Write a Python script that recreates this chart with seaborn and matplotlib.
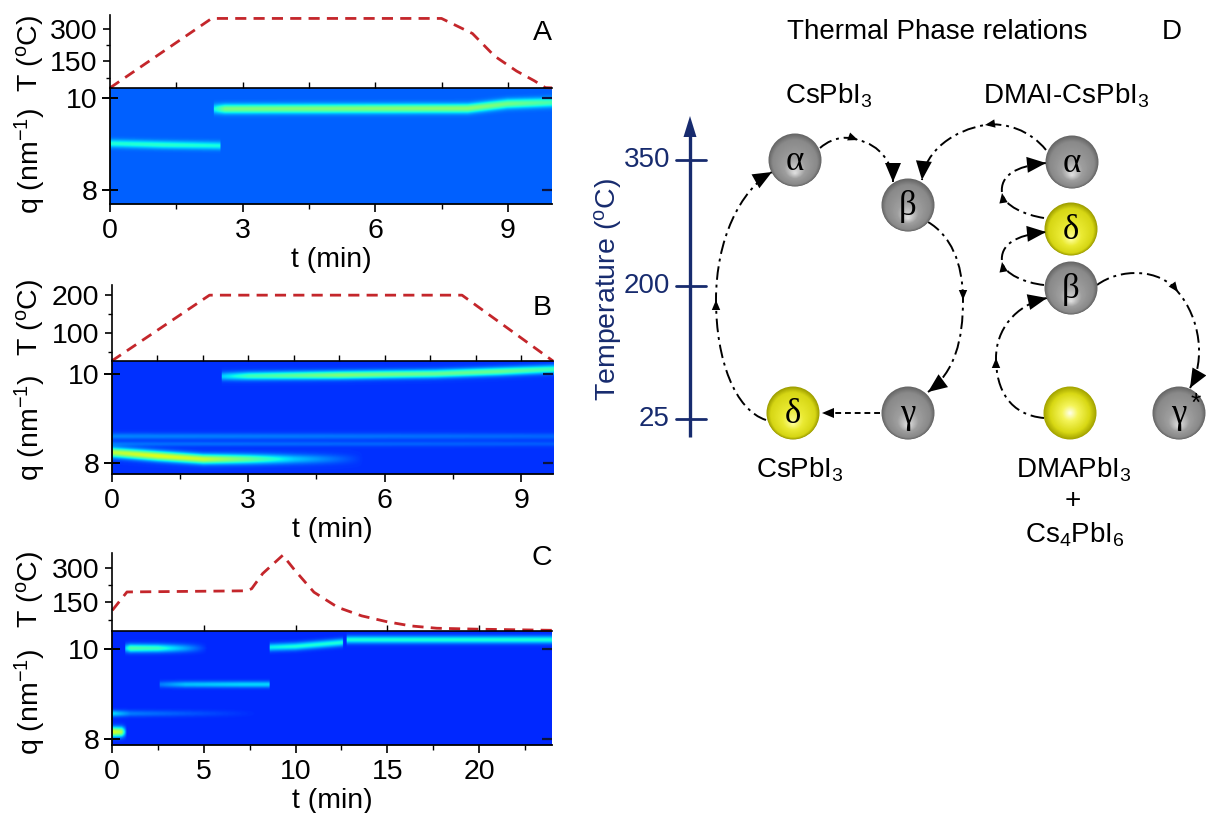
import numpy as np
import matplotlib
matplotlib.use('Agg')
import matplotlib.pyplot as plt
import seaborn as sns
from matplotlib.patches import Circle, Polygon, PathPatch
from matplotlib.path import Path
from matplotlib.ticker import NullLocator

# temperature programmes (t in min, T in degC)
a_time = [0, 2.3, 7.5, 8.2, 8.7, 9.2, 9.6, 9.85, 10]
a_temp = [27, 350, 350, 280, 175, 105, 60, 28, 27]
b_time = [0, 2.15, 7.7, 9.7]
b_temp = [25, 200, 200, 25]
c_time = [0, 0.8, 7.3, 7.6, 8.2, 9.3, 9.95, 11.0, 12.3, 13.6, 15.0, 16.3, 17.7, 19.9, 24]
c_temp = [115, 195, 200, 209, 275, 355, 290, 194, 128, 91, 65, 47, 37, 33, 28]

# diffraction streaks of the q(t) maps: time points, q centre, intensity above background, width
a_streak_t = [[0, 1.2, 2.5], [2.35, 2.6, 8.1, 9.0, 10]]
a_streak_q = [[8.99, 8.96, 8.94], [9.74, 9.74, 9.75, 9.85, 9.88]]
a_streak_i = [[0.17, 0.18, 0.16], [0.15, 0.28, 0.30, 0.27, 0.22]]
a_streak_w = [0.06, 0.07]

b_streak_t = [[2.4, 3, 5, 7.1, 8.5, 9.7], [0, 1, 2, 3, 4, 5.5], [0, 9.7], [0, 9.7]]
b_streak_q = [[9.94, 9.95, 9.97, 10.0, 10.05, 10.1], [8.24, 8.16, 8.09, 8.09, 8.09, 8.09],
              [8.6, 8.6], [8.43, 8.43]]
b_streak_i = [[0.15, 0.25, 0.33, 0.30, 0.30, 0.25], [0.40, 0.45, 0.42, 0.30, 0.15, 0.0],
              [0.08, 0.05], [0.06, 0.04]]
b_streak_w = [0.065, 0.075, 0.05, 0.04]

c_streak_t = [[0, 0.5, 0.8], [0, 1, 8], [0.7, 1, 2.5, 4, 5.2], [2.6, 4, 7, 8.6],
              [8.6, 10, 12.6], [12.8, 18, 24]]
c_streak_q = [[8.16, 8.16, 8.16], [8.57, 8.57, 8.57], [10.03, 10.03, 10.03, 10.03, 10.03],
              [9.22, 9.22, 9.22, 9.22], [10.05, 10.07, 10.16], [10.22, 10.22, 10.22]]
c_streak_i = [[0.45, 0.40, 0.0], [0.18, 0.08, 0.0], [0.15, 0.28, 0.25, 0.12, 0.0],
              [0.08, 0.15, 0.17, 0.17], [0.20, 0.22, 0.22], [0.22, 0.22, 0.22]]
c_streak_w = [0.075, 0.05, 0.065, 0.05, 0.06, 0.06]

# panel D
d_temp_ticks = [25, 200, 350]
d_phase_names = ['α', 'β', 'γ', 'δ', 'α', 'δ', 'β', '', 'γ']
d_phase_kinds = ['gray', 'gray', 'gray', 'yellow', 'gray', 'yellow', 'gray', 'bright', 'gray']

W, H = 1206, 813
sns.set_style('ticks')
plt.rcParams['font.family'] = ['Liberation Sans', 'DejaVu Sans']
plt.rcParams['mathtext.default'] = 'regular'
for k in ['axes.edgecolor', 'text.color', 'xtick.color', 'ytick.color', 'axes.labelcolor']:
    plt.rcParams[k] = 'black'

jet = matplotlib.colormaps['jet']
red = '#c4262b'
navy = '#172b6e'
fs = 20.5

fig = plt.figure(figsize=(W / 100, H / 100), dpi=100)


def px_axes(left, top, right, bottom, **kw):
    return fig.add_axes([left / W, 1 - bottom / H, (right - left) / W, (bottom - top) / H], **kw)


def streak_map(t_max, q_lim, bg, ts, qs, amps, widths):
    tt = np.linspace(0, t_max, 600)
    qq = np.linspace(q_lim[0], q_lim[1], 300)
    img = np.full((qq.size, tt.size), bg)
    for t, q, a, w in zip(ts, qs, amps, widths):
        qc = np.interp(tt, t, q)
        amp = np.interp(tt, t, a, left=0, right=0)
        img += amp[None, :] * np.exp(-0.5 * ((qq[:, None] - qc[None, :]) / w) ** 2)
    return img


panels = [
    dict(letter='A', x=(110, 552), y=(15, 88.3, 204.3), tmax=10, Tlim=(25, 366), qlim=(7.68, 10.21),
         bg=0.22, xt=[0, 3, 6, 9], xminor=1.5, top_step=1.5, Tmaj=[150, 300], Tmin=[75, 225],
         T=(a_time, a_temp), S=(a_streak_t, a_streak_q, a_streak_i, a_streak_w),
         Ty=53, qy=161, ly=33),
    dict(letter='B', x=(111.7, 553), y=(285, 361, 474), tmax=9.7, Tlim=(25, 227), qlim=(7.76, 10.28),
         bg=0.175, xt=[0, 3, 6, 9], xminor=1.5, top_step=1.0, Tmaj=[100, 200], Tmin=[50, 150],
         T=(b_time, b_temp), S=(b_streak_t, b_streak_q, b_streak_i, b_streak_w),
         Ty=317, qy=428, ly=308),
    dict(letter='C', x=(112.3, 552.3), y=(552.7, 631, 745), tmax=24, Tlim=(25, 366), qlim=(7.87, 10.41),
         bg=0.165, xt=[0, 5, 10, 15, 20], xminor=2.5, top_step=5, Tmaj=[150, 300], Tmin=[75, 225],
         T=(c_time, c_temp), S=(c_streak_t, c_streak_q, c_streak_i, c_streak_w),
         Ty=589, qy=702, ly=558),
]

for p in panels:
    x0, x1 = p['x']
    y0, y1, y2 = p['y']
    axH = px_axes(x0, y1, x1, y2)
    axT = px_axes(x0, y0, x1, y1, zorder=3)
    axT.patch.set_alpha(0)

    img = streak_map(p['tmax'], p['qlim'], p['bg'], *p['S'])
    axH.imshow(img, extent=[0, p['tmax'], p['qlim'][0], p['qlim'][1]], origin='lower', aspect='auto',
               cmap=jet, vmin=0, vmax=1, interpolation='bilinear')
    axH.set_xlim(0, p['tmax'])
    axH.set_ylim(*p['qlim'])
    axH.set_xticks(p['xt'])
    axH.set_xticks(np.arange(0, p['tmax'] + 1e-6, p['xminor']), minor=True)
    axH.set_yticks([8, 10])
    axH.yaxis.set_minor_locator(NullLocator())
    axH.tick_params(axis='x', which='major', direction='out', length=6, width=1.2, pad=4, labelsize=fs)
    axH.tick_params(axis='x', which='minor', direction='out', length=3.5, width=1.0)
    axH.tick_params(axis='y', which='major', direction='inout', length=12, width=1.4, pad=3,
                    labelsize=fs)
    for s in ['top', 'right']:
        axH.spines[s].set_visible(False)
    for s in ['left', 'bottom']:
        axH.spines[s].set_linewidth(1.3)
    axH.set_xlabel('t (min)', fontsize=fs, labelpad=2)

    # dark inner ticks on the right edge of the map
    axR = axH.twinx()
    axR.set_ylim(*p['qlim'])
    axR.set_yticks([8, 10])
    axR.yaxis.set_minor_locator(NullLocator())
    axR.tick_params(axis='y', direction='in', length=7, width=1.6, color='#0a1440', labelright=False)
    for s in axR.spines.values():
        s.set_visible(False)

    sns.lineplot(x=p['T'][0], y=p['T'][1], ax=axT, color=red, lw=2.0, linestyle=(0, (4, 2.6)),
                 clip_on=False, legend=False)
    axT.set_xlim(0, p['tmax'])
    axT.set_ylim(*p['Tlim'])
    axT.set_yticks(p['Tmaj'])
    axT.set_yticks(p['Tmin'], minor=True)
    axT.set_xticks(np.arange(p['top_step'], p['tmax'] - 1e-6, p['top_step']))
    axT.xaxis.set_minor_locator(NullLocator())
    axT.tick_params(axis='x', which='major', direction='in', length=4, width=1.0, labelbottom=False)
    axT.tick_params(axis='y', which='major', direction='out', length=5, width=1.2, pad=4, labelsize=fs)
    axT.tick_params(axis='y', which='minor', direction='out', length=3, width=1.0)
    for s in ['top', 'right']:
        axT.spines[s].set_visible(False)
    for s in ['left', 'bottom']:
        axT.spines[s].set_linewidth(1.2)
    axT.set_xlabel('')
    axT.set_ylabel('')

    fig.text(30 / W, 1 - p['Ty'] / H, 'T ($^{o}$C)', rotation=90, ha='center', va='center', fontsize=fs)
    fig.text(30 / W, 1 - p['qy'] / H, 'q (nm$^{-1}$)', rotation=90, ha='center', va='center', fontsize=fs)
    fig.text(542 / W, 1 - p['ly'] / H, p['letter'], ha='center', va='center', fontsize=fs)

# ---------------- panel D: schematic phase diagram ----------------
axd = fig.add_axes([0, 0, 1, 1], zorder=5)
axd.set_xlim(0, W)
axd.set_ylim(H, 0)
axd.axis('off')

dfs = 20
axd.text(937, 32, 'Thermal Phase relations', ha='center', va='center', fontsize=dfs)
axd.text(1172, 32, 'D', ha='center', va='center', fontsize=dfs)
axd.text(829, 104, 'CsPbI$_3$', ha='center', va='baseline', fontsize=dfs)
axd.text(1066, 104, 'DMAI-CsPbI$_3$', ha='center', va='baseline', fontsize=dfs)
axd.text(800, 477, 'CsPbI$_3$', ha='center', va='baseline', fontsize=dfs)
axd.text(1074, 477, 'DMAPbI$_3$', ha='center', va='baseline', fontsize=dfs)
axd.text(1073, 501, '+', ha='center', va='center', fontsize=dfs)
axd.text(1075, 542, 'Cs$_4$PbI$_6$', ha='center', va='baseline', fontsize=dfs)

# temperature arrow
axd.plot([690, 690], [437, 132], color=navy, lw=2.4, solid_capstyle='butt')
axd.add_patch(Polygon([[690, 116], [683.5, 137], [696.5, 137]], closed=True, color=navy, lw=0))
tick_y = [419, 286, 160]
for val, yy in zip(d_temp_ticks, tick_y):
    axd.plot([676, 706], [yy, yy], color=navy, lw=2.0)
    axd.text(670, yy, str(val), ha='right', va='center', fontsize=dfs, color=navy)
axd.text(608, 290, 'Temperature ($^{o}$C)', rotation=90, ha='center', va='center',
         fontsize=dfs + 0.5, color=navy)

# spheres
sphere_xy = [(795, 160), (908, 205), (908, 413), (793, 413),
             (1072, 162), (1071, 229), (1071, 288), (1070, 413), (1179, 413)]
R = 26
stops = {
    'gray': ([0, 0.15, 0.6, 1], [(0.40, 0.40, 0.40), (0.54, 0.54, 0.54), (0.62, 0.62, 0.62), (0.88, 0.88, 0.88)], 0.5),
    'yellow': ([0, 0.15, 0.6, 1], [(0.62, 0.62, 0.0), (0.84, 0.84, 0.08), (0.92, 0.92, 0.2), (1.0, 1.0, 0.6)], 0.4),
    'bright': ([0, 0.25, 0.7, 1], [(0.64, 0.64, 0.0), (0.85, 0.85, 0.08), (0.96, 0.96, 0.35), (1.0, 1.0, 0.92)], 0.0),
}
for name, kind, (sx, sy) in zip(d_phase_names, d_phase_kinds, sphere_xy):
    fpos, cols, shift = stops[kind]
    cols = np.array(cols)
    for f in np.linspace(0, 1, 45):
        c = [np.interp(f, fpos, cols[:, i]) for i in range(3)]
        rr = R * (1 - f) + 0.5
        axd.add_patch(Circle((sx, sy + shift * R * f), rr, color=c, lw=0, zorder=4))
    if name:
        axd.text(sx, sy + 1, name, family='Liberation Serif', fontsize=25, ha='center', va='center', zorder=5)
axd.text(1196, 404, '*', fontsize=19, ha='center', va='center', zorder=5)


def head(p_from, p_to, size):
    d = np.subtract(p_to, p_from).astype(float)
    d /= np.hypot(*d)
    n = np.array([-d[1], d[0]])
    tip = np.array(p_to, float)
    base = tip - d * size
    axd.add_patch(Polygon([tip, base + n * size * 0.42, base - n * size * 0.42], closed=True,
                          color='k', lw=0, zorder=6))


def curve(pts, ls):
    codes = [Path.MOVETO] + [Path.CURVE4] * (len(pts) - 1)
    axd.add_patch(PathPatch(Path(pts, codes), fill=False, lw=1.4, ls=ls, ec='k', capstyle='butt', zorder=3))


dashdot = (0, (7, 2.5, 1.5, 2.5))
arrows = [
    [(766, 420), (735, 410), (716, 360), (716, 300), (716, 240), (740, 190), (772, 172)],
    [(820, 148), (835, 135), (850, 137), (858, 140), (880, 145), (893, 163), (893, 182)],
    [(928, 222), (950, 235), (963, 262), (963, 300), (963, 340), (955, 372), (928, 392)],
    [(1046, 150), (1030, 130), (1005, 122), (985, 125), (955, 130), (925, 150), (922, 180)],
    [(1044, 218), (1025, 215), (1004, 206), (1002, 193), (1000, 176), (1015, 166), (1046, 163)],
    [(1044, 285), (1025, 283), (1004, 274), (1002, 262), (1000, 245), (1015, 235), (1046, 232)],
    [(1044, 418), (1010, 415), (996, 390), (996, 358), (996, 330), (1015, 305), (1047, 298)],
    [(1097, 285), (1120, 268), (1160, 268), (1178, 292), (1200, 318), (1206, 360), (1190, 388)],
]
for pts in arrows:
    curve(pts, dashdot)
    head(pts[2], pts[3], 10)
    head(pts[5], pts[6], 19)

curve([(880, 413), (860, 413), (840, 413), (822, 413)], (0, (3, 2)))
head((840, 413), (822, 413), 12)

fig.savefig('out.png', dpi=100)
